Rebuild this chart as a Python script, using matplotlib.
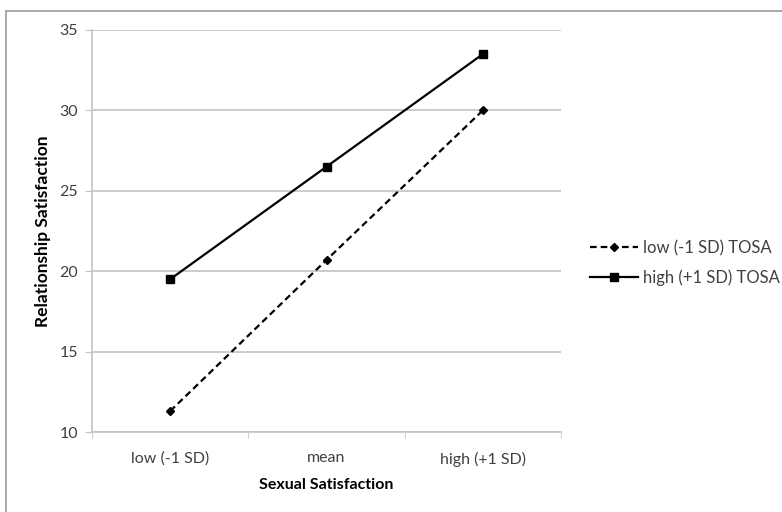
import numpy as np
import matplotlib
matplotlib.use("Agg")
import matplotlib.pyplot as plt
from matplotlib.patches import Rectangle

categories = ["low (-1 SD)", "mean", "high (+1 SD)"]
low_tosa = [11.3, 20.7, 30.0]
high_tosa = [19.5, 26.5, 33.5]
yticks = [10, 15, 20, 25, 30, 35]

plt.rcParams['font.family'] = ['Lato', 'DejaVu Sans']

W, H = 782, 512
fig = plt.figure(figsize=[W/100, H/100], dpi=100)
# axes box in pixels: x 92..561, y 30..432
ax = fig.add_axes([92/W, 1-432/H, (561-92)/W, (432-30)/H])

# outer chart frame (cropped at right/bottom)
fig.patches.append(Rectangle((6/W, -0.1), 1.2, 1-11/H+0.1, transform=fig.transFigure,
                             fill=False, edgecolor="#999999", linewidth=1.2))

x = np.arange(len(categories))
ax.plot(x, low_tosa, color="black", linestyle=(0, (3, 1.8)), linewidth=1.6,
        marker="D", markersize=4, label="low (-1 SD) TOSA")
ax.plot(x, high_tosa, color="black", linestyle="-", linewidth=1.6,
        marker="s", markersize=6, label="high (+1 SD) TOSA")

ax.set_xlim(-0.5, 2.5)
ax.set_ylim(10, 35)
ax.set_yticks(yticks)
ax.yaxis.grid(True, color="#c4c4c4", linewidth=1.2)
ax.set_axisbelow(True)

ax.set_xticks(x)
ax.set_xticklabels(categories)
ax.set_xticks([-0.5, 0.5, 1.5, 2.5], minor=True)
ax.tick_params(axis='x', which='major', length=0, pad=14, labelsize=11.5, labelcolor="#404040")
ax.tick_params(axis='x', which='minor', length=4, color="#c4c4c4")
ax.tick_params(axis='y', length=5, color="#c4c4c4", labelsize=11.5, labelcolor="#404040", pad=5)

for s in ["top", "right"]:
    ax.spines[s].set_visible(False)
for s in ["left", "bottom"]:
    ax.spines[s].set_color("#c4c4c4")
    ax.spines[s].set_linewidth(1.2)

ax.set_xlabel("Sexual Satisfaction", fontsize=11.5, fontweight="bold", labelpad=8)
ax.set_ylabel("Relationship Satisfaction", fontsize=12.5, fontweight="bold", labelpad=6)

ax.legend(loc="center left", bbox_to_anchor=(590/W, 1-263/H), bbox_transform=fig.transFigure,
          frameon=False, fontsize=12, handlelength=2.9, handletextpad=0.3, labelspacing=0.8,
          borderpad=0, borderaxespad=0, labelcolor="#404040")

fig.savefig("out.png", dpi=100)
